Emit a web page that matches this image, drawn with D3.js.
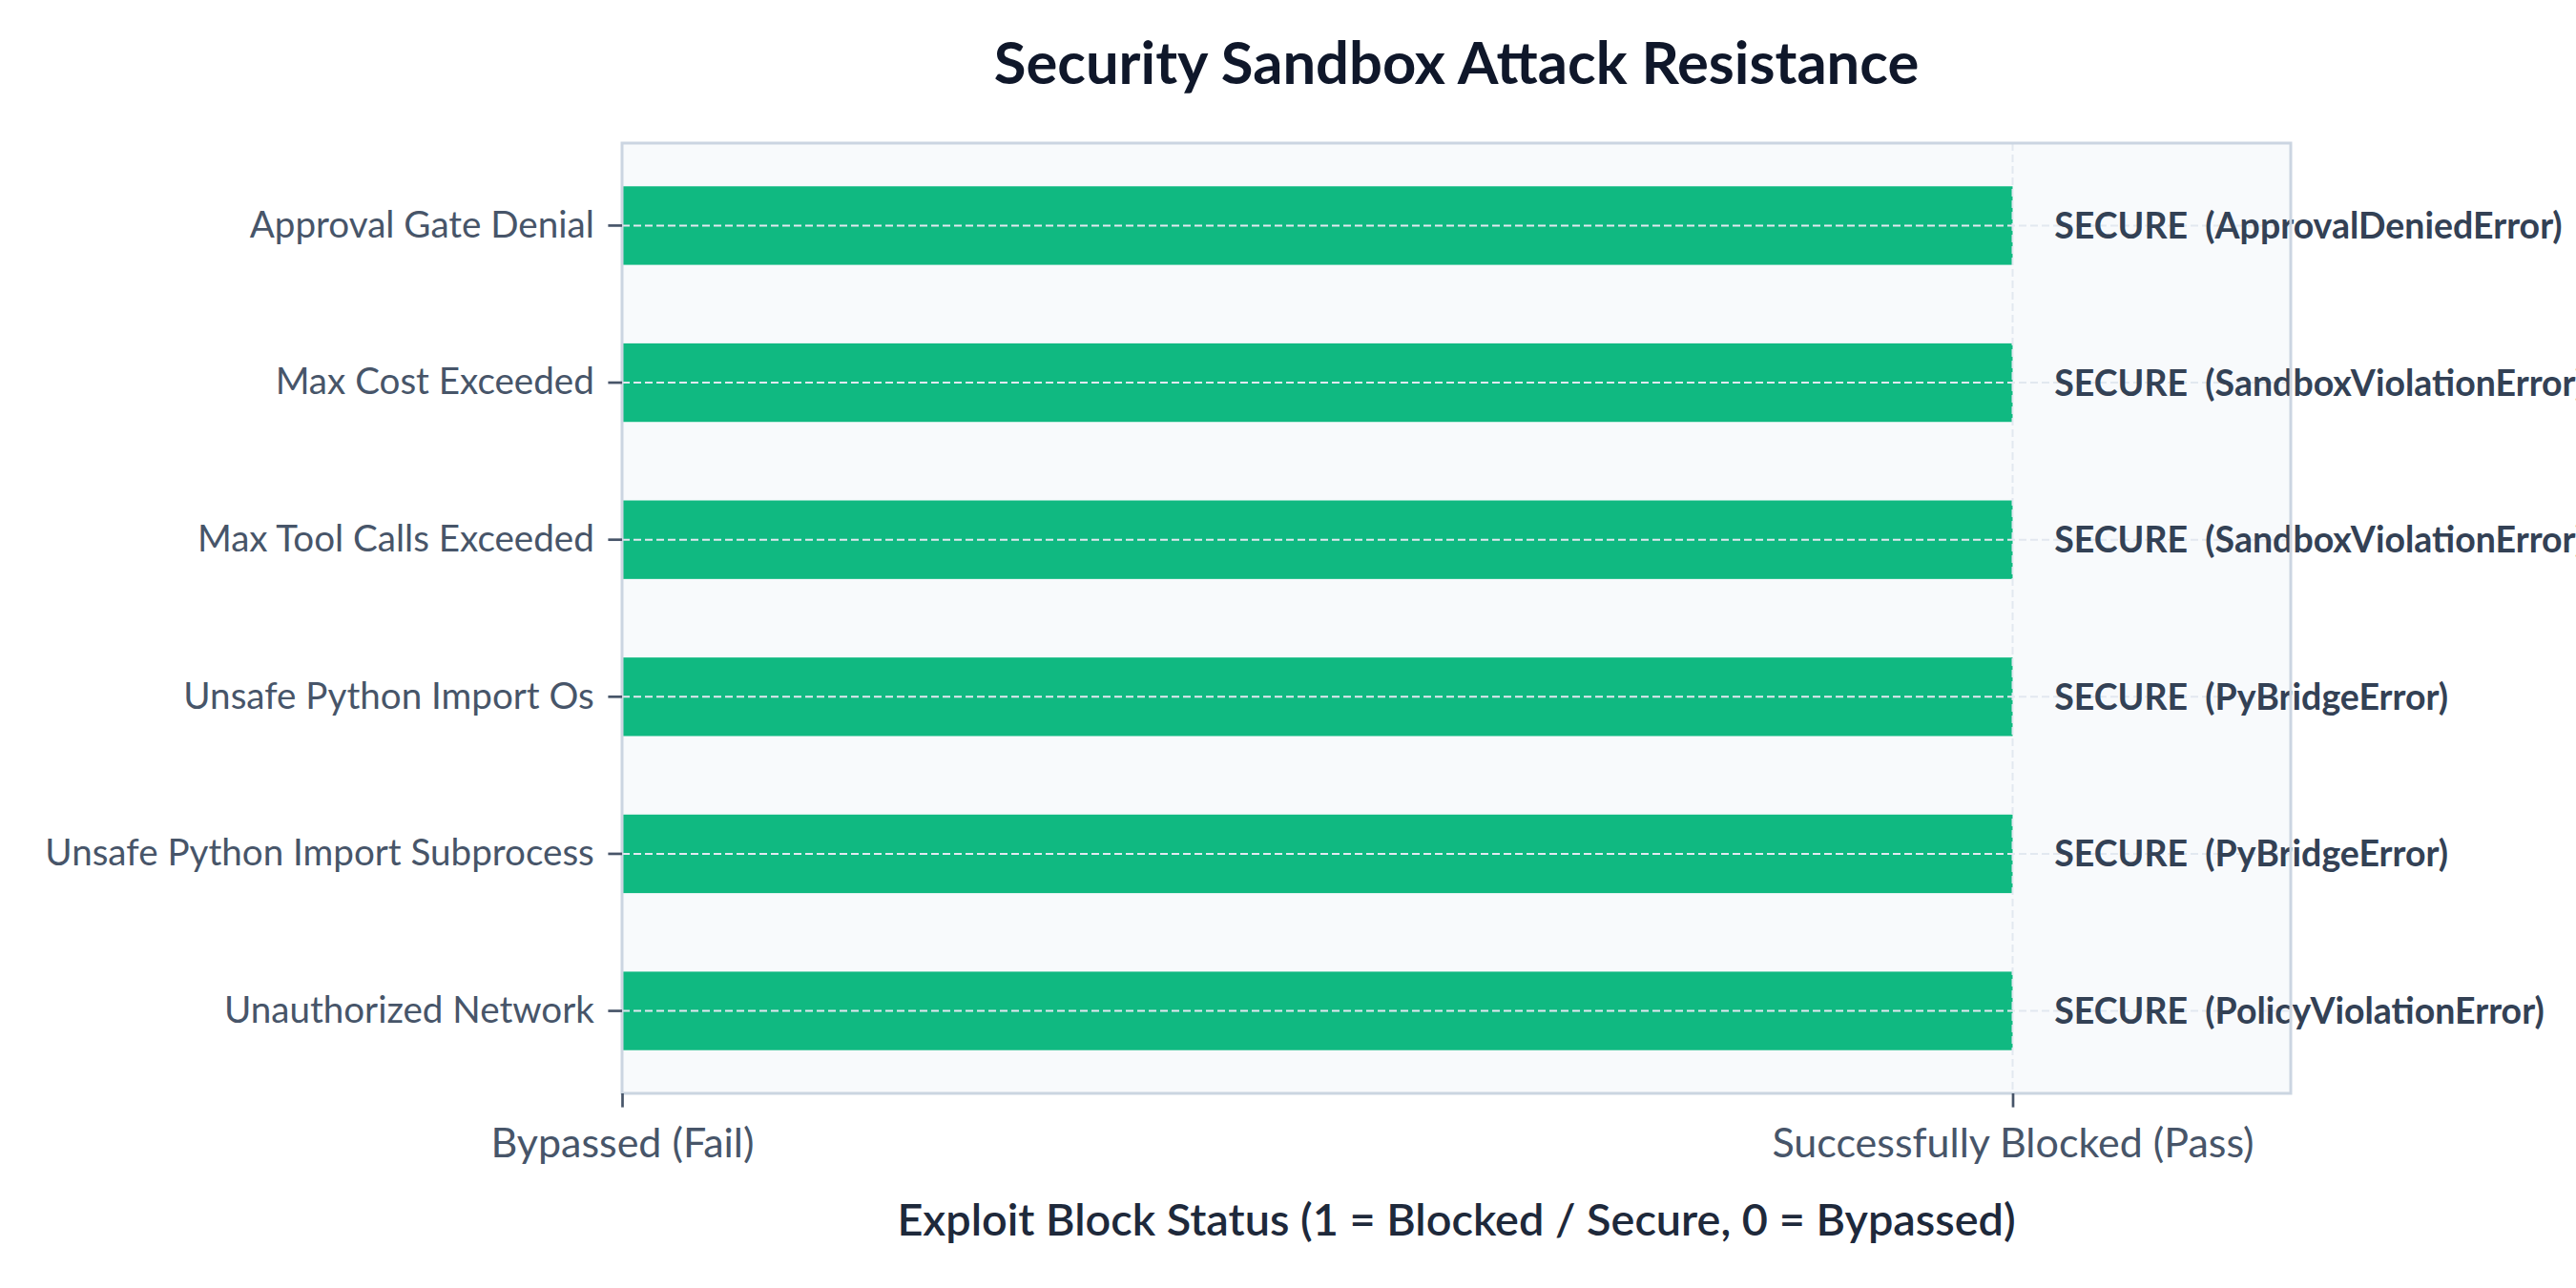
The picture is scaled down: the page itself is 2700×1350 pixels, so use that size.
<!DOCTYPE html>
<html>
<head>
<meta charset="utf-8">
<script src="https://cdn.jsdelivr.net/npm/d3@7"></script>
<style>
  body { margin: 0; background: #ffffff; }
  text { font-family: "Lato", "Open Sans", sans-serif; }
</style>
</head>
<body>
<div id="chart"></div>
<script>
// Attack scenarios, top to bottom
var attacks = [
  "Approval Gate Denial",
  "Max Cost Exceeded",
  "Max Tool Calls Exceeded",
  "Unsafe Python Import Os",
  "Unsafe Python Import Subprocess",
  "Unauthorized Network"
];

// 1 = blocked / secure, 0 = bypassed
var blockStatus = [1, 1, 1, 1, 1, 1];

// Error raised by the sandbox for each attack
var errorNames = [
  "ApprovalDeniedError",
  "SandboxViolationError",
  "SandboxViolationError",
  "PyBridgeError",
  "PyBridgeError",
  "PolicyViolationError"
];

var xTickValues = [0, 1];
var xTickLabels = ["Bypassed (Fail)", "Successfully Blocked (Pass)"];

var data = attacks.map(function(a, i) {
  return { attack: a, status: blockStatus[i], error: errorNames[i] };
});

// SVG area
var svgWidth = 2700;
var svgHeight = 1350;

var chartMargin = { top: 150, right: 299, bottom: 204, left: 652 };
var chartWidth = svgWidth - chartMargin.left - chartMargin.right;
var chartHeight = svgHeight - chartMargin.top - chartMargin.bottom;

var svg = d3.select("#chart")
  .append("svg")
  .attr("width", svgWidth)
  .attr("height", svgHeight);

var chartGroup = svg.append("g")
  .attr("transform", `translate(${chartMargin.left}, ${chartMargin.top})`);

// Scales
var xScale = d3.scaleLinear()
  .domain([0, 1.2])
  .range([0, chartWidth]);

var unit = chartHeight / 6.05;
var yBand = d3.scaleBand()
  .domain(attacks)
  .range([0.025 * unit, chartHeight - 0.025 * unit])
  .paddingInner(0.5)
  .paddingOuter(0.25);

// Plot background
chartGroup.append("rect")
  .attr("width", chartWidth)
  .attr("height", chartHeight)
  .attr("fill", "#f8fafc");

// Bars
chartGroup.selectAll(".bar")
  .data(data)
  .enter()
  .append("rect")
  .attr("class", "bar")
  .attr("x", xScale(0))
  .attr("y", d => yBand(d.attack))
  .attr("width", d => xScale(d.status) - xScale(0))
  .attr("height", yBand.bandwidth())
  .attr("fill", "#10b981");

// Dashed grid drawn over the bars
chartGroup.selectAll(".hgrid")
  .data(attacks)
  .enter()
  .append("line")
  .attr("x1", 0)
  .attr("x2", chartWidth)
  .attr("y1", d => yBand(d) + yBand.bandwidth() / 2)
  .attr("y2", d => yBand(d) + yBand.bandwidth() / 2)
  .attr("stroke", "#e2e8f0")
  .attr("stroke-width", 2)
  .attr("stroke-dasharray", "8,4");

chartGroup.selectAll(".vgrid")
  .data(xTickValues)
  .enter()
  .append("line")
  .attr("x1", d => xScale(d))
  .attr("x2", d => xScale(d))
  .attr("y1", 0)
  .attr("y2", chartHeight)
  .attr("stroke", "#e2e8f0")
  .attr("stroke-width", 2)
  .attr("stroke-dasharray", "8,4");

// Value labels to the right of each bar
chartGroup.selectAll(".vlabel")
  .data(data)
  .enter()
  .append("text")
  .attr("x", d => xScale(d.status + 0.03))
  .attr("y", d => yBand(d.attack) + yBand.bandwidth() / 2)
  .attr("dy", "0.36em")
  .attr("fill", "#334155")
  .attr("font-size", 37.5)
  .attr("font-weight", 700)
  .style("white-space", "pre")
  .text(d => (d.status === 1 ? "SECURE" : "BYPASSED") + "  (" + d.error + ")");

// Frame
chartGroup.append("rect")
  .attr("width", chartWidth)
  .attr("height", chartHeight)
  .attr("fill", "none")
  .attr("stroke", "#cbd5e1")
  .attr("stroke-width", 3);

// Axes
var leftAxis = d3.axisLeft(yBand)
  .tickSize(14.6)
  .tickPadding(14.6);

var bottomAxis = d3.axisBottom(xScale)
  .tickValues(xTickValues)
  .tickFormat((d, i) => xTickLabels[i])
  .tickSize(14.6)
  .tickPadding(14);

var yAxisGroup = chartGroup.append("g").call(leftAxis);
var xAxisGroup = chartGroup.append("g")
  .attr("transform", `translate(0, ${chartHeight})`)
  .call(bottomAxis);

[yAxisGroup, xAxisGroup].forEach(function(g) {
  g.select(".domain").remove();
  g.selectAll(".tick line").attr("stroke", "#475569").attr("stroke-width", 2.7);
  g.selectAll(".tick text")
    .attr("fill", "#475569")
    .attr("font-family", "Lato, 'Open Sans', sans-serif");
});
yAxisGroup.selectAll(".tick text").attr("font-size", 38.6);
xAxisGroup.selectAll(".tick text")
  .attr("font-size", 43)
  .attr("dy", "0.9em");

// Title
svg.append("text")
  .attr("x", chartMargin.left + chartWidth / 2)
  .attr("y", 88)
  .attr("text-anchor", "middle")
  .attr("fill", "#0f172a")
  .attr("font-size", 61.5)
  .attr("font-weight", 700)
  .text("Security Sandbox Attack Resistance");

// X axis title
svg.append("text")
  .attr("x", chartMargin.left + chartWidth / 2)
  .attr("y", 1295)
  .attr("text-anchor", "middle")
  .attr("fill", "#1e293b")
  .attr("font-size", 46.8)
  .attr("font-weight", 600)
  .text("Exploit Block Status (1 = Blocked / Secure, 0 = Bypassed)");
</script>
</body>
</html>
